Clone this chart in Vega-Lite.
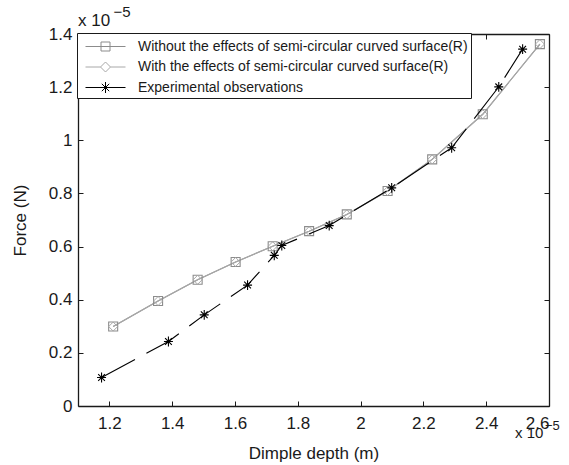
{
  "$schema": "https://vega.github.io/schema/vega-lite/v6.json",
  "autosize": {"type": "none"},
  "width": 471,
  "height": 372,
  "padding": {"left": 78, "top": 34, "right": 20, "bottom": 59},
  "background": "white",
  "config": {
    "view": {"stroke": null},
    "font": "Liberation Sans",
    "axis": {
      "grid": false,
      "domainColor": "#1a1a1a",
      "domainWidth": 1.3,
      "tickColor": "#1a1a1a",
      "tickWidth": 1,
      "tickSize": -5,
      "labelFont": "Liberation Sans",
      "labelFontSize": 17,
      "labelColor": "#1a1a1a",
      "titleFont": "Liberation Sans",
      "titleFontSize": 17,
      "titleFontWeight": "normal",
      "titleColor": "#1a1a1a"
    },
    "legend": {
      "orient": "none", "legendX": -1, "legendY": -1, "title": null,
      "fillColor": "white", "strokeColor": "#1a1a1a", "padding": 3,
      "symbolSize": 400, "labelOffset": 37, "labelFontSize": 14, "labelFont": "Liberation Sans",
      "labelColor": "#1a1a1a", "rowPadding": 2.5, "labelLimit": 500, "symbolStrokeWidth": 1,
      "symbolOpacity": 1, "symbolFillColor": "transparent"
    }
  },
  "datasets": {
    "series": [
      {"series": "Without the effects of semi-circular curved surface(R)", "depth": 1.212, "force": 0.299},
      {"series": "Without the effects of semi-circular curved surface(R)", "depth": 1.355, "force": 0.395},
      {"series": "Without the effects of semi-circular curved surface(R)", "depth": 1.481, "force": 0.475},
      {"series": "Without the effects of semi-circular curved surface(R)", "depth": 1.602, "force": 0.542},
      {"series": "Without the effects of semi-circular curved surface(R)", "depth": 1.720, "force": 0.601},
      {"series": "Without the effects of semi-circular curved surface(R)", "depth": 1.836, "force": 0.658},
      {"series": "Without the effects of semi-circular curved surface(R)", "depth": 1.956, "force": 0.721},
      {"series": "Without the effects of semi-circular curved surface(R)", "depth": 2.086, "force": 0.809},
      {"series": "Without the effects of semi-circular curved surface(R)", "depth": 2.228, "force": 0.928},
      {"series": "Without the effects of semi-circular curved surface(R)", "depth": 2.389, "force": 1.098},
      {"series": "Without the effects of semi-circular curved surface(R)", "depth": 2.571, "force": 1.362},
      {"series": "With the effects of semi-circular curved surface(R)", "depth": 1.212, "force": 0.299},
      {"series": "With the effects of semi-circular curved surface(R)", "depth": 1.355, "force": 0.395},
      {"series": "With the effects of semi-circular curved surface(R)", "depth": 1.481, "force": 0.475},
      {"series": "With the effects of semi-circular curved surface(R)", "depth": 1.602, "force": 0.542},
      {"series": "With the effects of semi-circular curved surface(R)", "depth": 1.720, "force": 0.601},
      {"series": "With the effects of semi-circular curved surface(R)", "depth": 1.836, "force": 0.658},
      {"series": "With the effects of semi-circular curved surface(R)", "depth": 1.956, "force": 0.721},
      {"series": "With the effects of semi-circular curved surface(R)", "depth": 2.086, "force": 0.809},
      {"series": "With the effects of semi-circular curved surface(R)", "depth": 2.228, "force": 0.928},
      {"series": "With the effects of semi-circular curved surface(R)", "depth": 2.389, "force": 1.098},
      {"series": "With the effects of semi-circular curved surface(R)", "depth": 2.571, "force": 1.362},
      {"series": "Experimental observations", "depth": 1.175, "force": 0.107},
      {"series": "Experimental observations", "depth": 1.388, "force": 0.243},
      {"series": "Experimental observations", "depth": 1.502, "force": 0.343},
      {"series": "Experimental observations", "depth": 1.640, "force": 0.455},
      {"series": "Experimental observations", "depth": 1.725, "force": 0.567},
      {"series": "Experimental observations", "depth": 1.749, "force": 0.604},
      {"series": "Experimental observations", "depth": 1.900, "force": 0.679},
      {"series": "Experimental observations", "depth": 2.099, "force": 0.821},
      {"series": "Experimental observations", "depth": 2.290, "force": 0.972},
      {"series": "Experimental observations", "depth": 2.440, "force": 1.201},
      {"series": "Experimental observations", "depth": 2.516, "force": 1.343}
    ],
    "baseTop": [{"depth": 1.1, "force": 1.431, "t": "x 10"}],
    "expoTop": [{"depth": 1.213, "force": 1.464, "t": "−5"}],
    "baseBottom": [{"depth": 2.4917, "force": -0.1204, "t": "x 10"}],
    "expoBottom": [{"depth": 2.587, "force": -0.0903, "t": "−5"}]
  },
  "resolve": {"axis": {"x": "independent", "y": "independent"}},
  "layer": [
    {
      "data": {"name": "series"},
      "transform": [{"filter": "datum.series === 'Without the effects of semi-circular curved surface(R)'"}],
      "mark": {"type": "line", "strokeWidth": 1.1, "color": "#8c8c8c"},
      "encoding": {
        "x": {"field": "depth", "type": "quantitative",
              "scale": {"domain": [1.1, 2.6], "nice": false, "zero": false},
              "axis": {"orient": "bottom", "values": [1.2, 1.4, 1.6, 1.8, 2, 2.2, 2.4, 2.6], "format": "~g",
                       "labelPadding": 14, "title": "Dimple depth (m)", "titleY": 52, "titleBaseline": "alphabetic"}},
        "y": {"field": "force", "type": "quantitative",
              "scale": {"domain": [0, 1.4], "nice": false},
              "axis": {"orient": "left", "values": [0, 0.2, 0.4, 0.6, 0.8, 1, 1.2, 1.4], "format": "~g",
                       "labelPadding": 11, "title": "Force (N)", "titleX": -58, "titleY": 186, "titleAngle": -90,
                       "titleBaseline": "middle", "titleAlign": "center"}}
      }
    },
    {
      "data": {"name": "series"},
      "transform": [{"filter": "datum.series === 'With the effects of semi-circular curved surface(R)'"}],
      "mark": {"type": "line", "strokeWidth": 1.1, "color": "#a8a8a8"},
      "encoding": {
        "x": {"field": "depth", "type": "quantitative", "axis": null},
        "y": {"field": "force", "type": "quantitative", "axis": null}
      }
    },
    {
      "data": {"name": "series"},
      "transform": [{"filter": "datum.series === 'Without the effects of semi-circular curved surface(R)'"}],
      "mark": {"type": "point", "shape": "square", "filled": false, "strokeWidth": 1.1, "size": 81, "opacity": 1, "color": "#8c8c8c"},
      "encoding": {
        "x": {"field": "depth", "type": "quantitative",
              "axis": {"orient": "top", "values": [1.2, 1.4, 1.6, 1.8, 2, 2.2, 2.4, 2.6], "labels": false, "title": null}},
        "y": {"field": "force", "type": "quantitative",
              "axis": {"orient": "right", "values": [0, 0.2, 0.4, 0.6, 0.8, 1, 1.2, 1.4], "labels": false, "title": null}}
      }
    },
    {
      "data": {"name": "series"},
      "transform": [{"filter": "datum.series === 'With the effects of semi-circular curved surface(R)'"}],
      "mark": {"type": "point", "shape": "diamond", "filled": false, "strokeWidth": 1, "size": 81, "opacity": 1, "color": "#a8a8a8"},
      "encoding": {
        "x": {"field": "depth", "type": "quantitative", "axis": null},
        "y": {"field": "force", "type": "quantitative", "axis": null}
      }
    },
    {
      "data": {"name": "series"},
      "transform": [{"filter": "datum.series === 'Experimental observations'"}],
      "mark": {"type": "line", "strokeWidth": 1.1, "strokeDash": [38, 13], "color": "#000000"},
      "encoding": {
        "x": {"field": "depth", "type": "quantitative", "axis": null},
        "y": {"field": "force", "type": "quantitative", "axis": null}
      }
    },
    {
      "data": {"name": "series"},
      "transform": [{"filter": "datum.series === 'Experimental observations'"}],
      "mark": {"type": "point", "shape": "M-1,0H1M0,-1.1V1.1M-0.75,-0.75L0.75,0.75M-0.75,0.75L0.75,-0.75", "filled": false, "strokeWidth": 1.1, "size": 81, "opacity": 1, "color": "#000000"},
      "encoding": {
        "x": {"field": "depth", "type": "quantitative", "axis": null},
        "y": {"field": "force", "type": "quantitative", "axis": null}
      }
    },
    {
      "data": {"name": "series"},
      "transform": [{"filter": "false"}],
      "mark": {"type": "point", "filled": false, "strokeWidth": 1},
      "encoding": {
        "x": {"field": "depth", "type": "quantitative", "axis": null},
        "y": {"field": "force", "type": "quantitative", "axis": null},
        "color": {"field": "series", "type": "nominal",
                  "scale": {"domain": ["Without the effects of semi-circular curved surface(R)", "With the effects of semi-circular curved surface(R)", "Experimental observations"],
                            "range": ["#8c8c8c", "#a8a8a8", "#000000"]}},
        "shape": {"field": "series", "type": "nominal",
                  "scale": {"domain": ["Without the effects of semi-circular curved surface(R)", "With the effects of semi-circular curved surface(R)", "Experimental observations"],
                            "range": ["M-0.5,0H3.5M1.05,-0.45H1.95V0.45H1.05Z", "M-0.5,0H1M2,0H3.5M1.5,-0.5L2,0L1.5,0.5L1,0Z", "M-0.5,0H3.5M1.5,-0.55V0.55M1.13,-0.37L1.87,0.37M1.13,0.37L1.87,-0.37"]}}
      }
    },
    {
      "data": {"name": "baseTop"},
      "mark": {"type": "text", "align": "left", "baseline": "alphabetic", "fontSize": 17, "color": "#1a1a1a", "font": "Liberation Sans"},
      "encoding": {
        "x": {"field": "depth", "type": "quantitative", "axis": null},
        "y": {"field": "force", "type": "quantitative", "axis": null},
        "text": {"field": "t"}
      }
    },
    {
      "data": {"name": "expoTop"},
      "mark": {"type": "text", "align": "left", "baseline": "alphabetic", "fontSize": 15, "color": "#1a1a1a", "font": "Liberation Sans"},
      "encoding": {
        "x": {"field": "depth", "type": "quantitative", "axis": null},
        "y": {"field": "force", "type": "quantitative", "axis": null},
        "text": {"field": "t"}
      }
    },
    {
      "data": {"name": "baseBottom"},
      "mark": {"type": "text", "align": "left", "baseline": "alphabetic", "fontSize": 15, "color": "#1a1a1a", "font": "Liberation Sans"},
      "encoding": {
        "x": {"field": "depth", "type": "quantitative", "axis": null},
        "y": {"field": "force", "type": "quantitative", "axis": null},
        "text": {"field": "t"}
      }
    },
    {
      "data": {"name": "expoBottom"},
      "mark": {"type": "text", "align": "left", "baseline": "alphabetic", "fontSize": 13, "color": "#1a1a1a", "font": "Liberation Sans"},
      "encoding": {
        "x": {"field": "depth", "type": "quantitative", "axis": null},
        "y": {"field": "force", "type": "quantitative", "axis": null},
        "text": {"field": "t"}
      }
    }
  ]
}
